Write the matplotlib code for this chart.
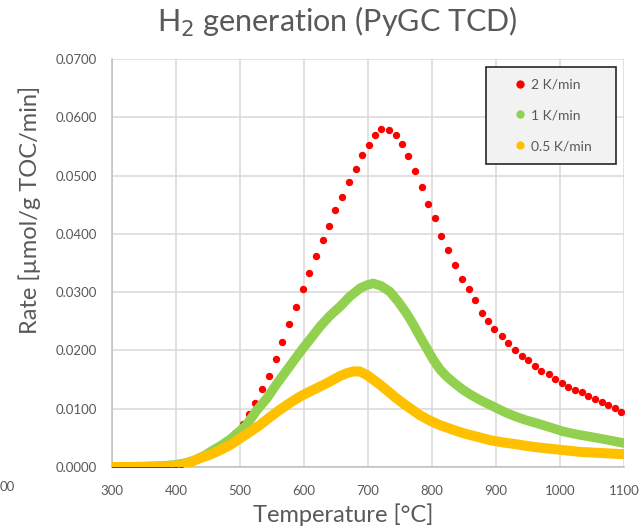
import matplotlib
matplotlib.use('Agg')
import matplotlib.pyplot as plt
from matplotlib.patches import Rectangle
from matplotlib.ticker import FuncFormatter, MultipleLocator

plt.rcParams['font.family'] = ['Lato', 'DejaVu Sans']

# 2 K/min (red dots)
t_2k = [303, 314, 324, 335, 345, 356, 366, 377, 387, 398, 408, 419, 429, 440,
        450, 461, 471, 482, 492, 504, 514, 524, 535, 546, 556, 566, 577, 587,
        598, 608, 618, 629, 639, 649, 659, 670, 681, 690, 701, 711, 721, 732,
        743, 753, 762, 774, 784, 793, 805, 814, 825, 836, 847, 857, 867, 878,
        888, 897, 909, 919, 930, 940, 950, 961, 971, 982, 992, 1003, 1013, 1023,
        1034, 1044, 1055, 1065, 1075, 1086, 1096]
r_2k = [0.0000, 0.0000, 0.0000, 0.0000, 0.0000, 0.0001, 0.0001, 0.0001, 0.0002,
        0.0004, 0.0006, 0.0009, 0.0013, 0.0018, 0.0024, 0.0029, 0.0038, 0.0046,
        0.0059, 0.0074, 0.0091, 0.0110, 0.0133, 0.0156, 0.0185, 0.0214, 0.0245,
        0.0275, 0.0305, 0.0333, 0.0362, 0.0390, 0.0414, 0.0441, 0.0463, 0.0489,
        0.0512, 0.0535, 0.0553, 0.0570, 0.0580, 0.0579, 0.0570, 0.0555, 0.0534,
        0.0508, 0.0481, 0.0451, 0.0427, 0.0397, 0.0372, 0.0347, 0.0323, 0.0305,
        0.0286, 0.0265, 0.0251, 0.0236, 0.0224, 0.0212, 0.0201, 0.0190, 0.0183,
        0.0173, 0.0164, 0.0159, 0.0151, 0.0144, 0.0138, 0.0132, 0.0128, 0.0122,
        0.0117, 0.0111, 0.0106, 0.0101, 0.0095]

# 1 K/min (green)
t_1k = [300, 350, 380, 400, 415, 430, 445, 458, 472, 485, 498, 510, 526, 542,
        557, 573, 587, 600, 613, 625, 640, 656, 672, 688, 698, 708, 720, 734,
        747, 760, 771, 781, 792, 802, 812, 823, 836, 849, 862, 875, 888, 901,
        916, 932, 948, 964, 985, 1005, 1026, 1047, 1072, 1100]
r_1k = [0.0000, 0.0001, 0.0002, 0.0004, 0.0007, 0.0012, 0.0020, 0.0029, 0.0038,
        0.0048, 0.0060, 0.0072, 0.0097, 0.0118, 0.0142, 0.0166, 0.0187, 0.0206,
        0.0224, 0.0241, 0.0259, 0.0275, 0.0293, 0.0307, 0.0312, 0.0315, 0.0311,
        0.0301, 0.0284, 0.0264, 0.0244, 0.0224, 0.0203, 0.0184, 0.0168, 0.0155,
        0.0143, 0.0132, 0.0123, 0.0115, 0.0108, 0.0101, 0.0093, 0.0086, 0.0080,
        0.0075, 0.0068, 0.0061, 0.0056, 0.0052, 0.0047, 0.0041]

# 0.5 K/min (yellow)
t_05k = [300, 330, 360, 380, 395, 406, 420, 437, 453, 469, 485, 500, 515, 531,
         546, 562, 578, 594, 610, 625, 641, 656, 667, 677, 687, 698, 708, 719,
         729, 742, 755, 768, 781, 796, 812, 830, 849, 870, 891, 912, 932, 955,
         979, 1005, 1031, 1065, 1100]
r_05k = [0.0000, 0.0000, 0.0000, 0.0001, 0.0002, 0.0003, 0.0007, 0.0015, 0.0021,
         0.0029, 0.0038, 0.0049, 0.0060, 0.0072, 0.0085, 0.0098, 0.0110, 0.0121,
         0.0130, 0.0138, 0.0147, 0.0156, 0.0161, 0.0164, 0.0164, 0.0158, 0.0150,
         0.0141, 0.0132, 0.0120, 0.0109, 0.0099, 0.0089, 0.0080, 0.0072, 0.0065,
         0.0058, 0.0052, 0.0046, 0.0042, 0.0039, 0.0035, 0.0032, 0.0029, 0.0026,
         0.0024, 0.0022]

labels = ['2 K/min', '1 K/min', '0.5 K/min']
colors = ['#ff0000', '#92d050', '#ffc000']
text_grey = '#595959'

fig = plt.figure(figsize=(6.42, 5.31), dpi=100)
ax = fig.add_axes([0.1745, 0.1205, 0.7975, 0.7684])

ax.plot(t_2k, r_2k, 'o', color=colors[0], ms=5.3, mec='none', zorder=3)
ax.plot(t_1k, r_1k, '-', color=colors[1], lw=6.8, solid_capstyle='round',
        solid_joinstyle='round', zorder=4)
ax.plot(t_05k, r_05k, '-', color=colors[2], lw=7.2, solid_capstyle='round',
        solid_joinstyle='round', zorder=5)

ax.set_xlim(300, 1100)
ax.set_ylim(0, 0.07)
ax.xaxis.set_major_locator(MultipleLocator(100))
ax.yaxis.set_major_locator(MultipleLocator(0.01))
ax.yaxis.set_major_formatter(FuncFormatter(lambda v, p: f'{v:.4f}'))
ax.tick_params(length=0, labelsize=9.5, labelcolor=text_grey)
ax.tick_params(axis='x', pad=13)
ax.tick_params(axis='y', pad=11)
ax.grid(True, color='#d9d9d9', lw=1.1)
ax.set_axisbelow(True)
for side in ['top', 'right']:
    ax.spines[side].set_visible(False)
for side in ['left', 'bottom']:
    ax.spines[side].set_color('#bfbfbf')
    ax.spines[side].set_linewidth(1.1)

fig.text(0.525, 0.958, 'H$_2$ generation (PyGC TCD)', ha='center', va='center',
         fontsize=22, color=text_grey)
fig.text(0.535, 0.03, 'Temperature [°C]', ha='center', va='center',
         fontsize=17, color=text_grey)
fig.text(0.047, 0.605, 'Rate [µmol/g TOC/min]', ha='center', va='center',
         rotation=90, fontsize=17, color=text_grey)
fig.text(0.0, 0.083, '00', ha='left', va='center', fontsize=9.5, color=text_grey)

# legend box drawn separately so its padding can match
box = Rectangle((0.730, 0.743), 0.254, 0.237, transform=ax.transAxes,
                facecolor='#f2f2f2', edgecolor='#262626', lw=1.2,
                clip_on=False, zorder=9)
ax.add_patch(box)
handles = [plt.Line2D([], [], ls='none', marker='o', ms=6, color=c, mec='none')
           for c in colors]
leg = ax.legend(handles, labels, loc='upper left', bbox_to_anchor=(0.785, 0.952),
                fontsize=10, frameon=False, labelspacing=1.35,
                handlelength=0.8, handletextpad=0.4, borderpad=0,
                borderaxespad=0)
for t in leg.get_texts():
    t.set_color(text_grey)
leg.set_zorder(10)

fig.savefig('out.png', dpi=100)
